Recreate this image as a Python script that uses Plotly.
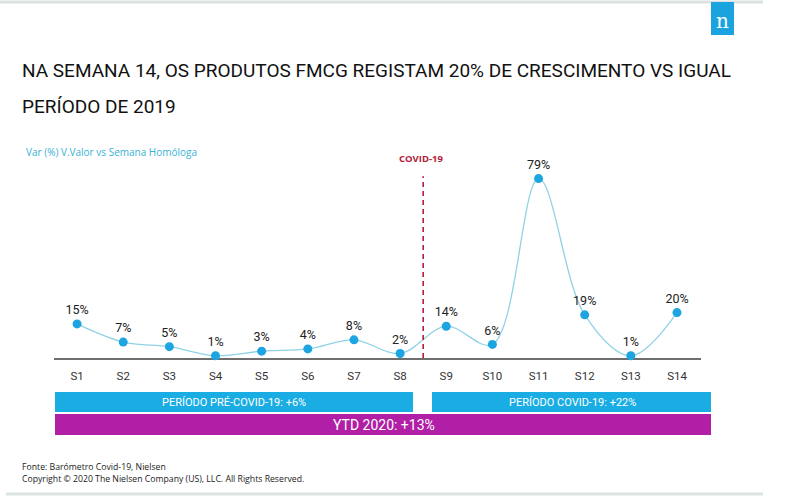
import plotly.graph_objects as go

# ---------------- data ----------------
weeks = ["S1", "S2", "S3", "S4", "S5", "S6", "S7", "S8", "S9", "S10", "S11", "S12", "S13", "S14"]
var_valor = [15, 7, 5, 1, 3, 4, 8, 2, 14, 6, 79, 19, 1, 20]
series_name = "Var (%) V.Valor vs Semana Homóloga"
covid_marker_pos = 7.5          # between S8 and S9
covid_label = "COVID-19"
period_labels = ["PERÍODO PRÉ-COVID-19: +6%", "PERÍODO COVID-19: +22%", "YTD 2020: +13%"]
title_lines = ["NA SEMANA 14, OS PRODUTOS FMCG REGISTAM 20% DE CRESCIMENTO VS IGUAL",
               "PERÍODO DE 2019"]
footer_lines = ["Fonte: Barómetro Covid-19, Nielsen",
                "Copyright © 2020 The Nielsen Company (US), LLC. All Rights Reserved."]

# ---------------- style ----------------
W, H = 810, 497
NARROW = "Roboto, Liberation Sans, sans-serif"
SANS = "Open Sans, Noto Sans, sans-serif"
CYAN = "#1AADE4"
MAGENTA = "#B01FA6"
LINE = "#8FD2E6"
MARK = "#1CA5E0"
RED = "#B3203A"


def px(x):
    return x / W


def py(y):
    return 1 - y / H


fig = go.Figure()
fig.add_trace(go.Scatter(
    x=weeks, y=var_valor, mode="lines+markers+text",
    line=dict(shape="spline", smoothing=1.0, color=LINE, width=1.3),
    marker=dict(size=9, color=MARK),
    text=[f"{v}%" for v in var_valor], textposition="top center",
    textfont=dict(family=NARROW, size=12.5, color="#222222"),
    cliponaxis=False, name=series_name, showlegend=False, hoverinfo="x+y",
))

shapes = []
# covid dashed line
shapes.append(dict(type="line", xref="x", yref="y", x0=covid_marker_pos, x1=covid_marker_pos,
                   y0=0, y1=80, line=dict(color=RED, width=1.6, dash="5px,4px")))
# top/bottom decorative lines
shapes.append(dict(type="line", xref="paper", yref="paper", x0=0, x1=px(763), y0=py(2), y1=py(2),
                   line=dict(color="#DCE1E1", width=3)))
shapes.append(dict(type="line", xref="paper", yref="paper", x0=px(6), x1=px(763), y0=py(494), y1=py(494),
                   line=dict(color="#DCE3E3", width=3)))
# logo square
shapes.append(dict(type="rect", xref="paper", yref="paper", x0=px(711), x1=px(734), y0=py(35), y1=py(2),
                   fillcolor="#1BA3DF", line=dict(width=0)))
# period bars
bars = [(55, 413, 392, 412, CYAN), (432, 711, 392, 412, CYAN), (55, 711, 414, 435, MAGENTA)]
for x0, x1, y0, y1, c in bars:
    shapes.append(dict(type="rect", xref="paper", yref="paper", x0=px(x0), x1=px(x1), y0=py(y1), y1=py(y0),
                       fillcolor=c, line=dict(width=0), layer="below"))

ann = []
ann.append(dict(text=title_lines[0], x=px(20), y=py(70), xanchor="left", yanchor="middle",
                font=dict(family=NARROW, size=19, color="#111111")))
ann.append(dict(text=title_lines[1], x=px(20), y=py(106), xanchor="left", yanchor="middle",
                font=dict(family=NARROW, size=19, color="#111111")))
ann.append(dict(text="n", x=px(722.5), y=py(21), xanchor="center", yanchor="middle",
                font=dict(family="DejaVu Serif, Liberation Serif, serif", size=20, color="white")))
ann.append(dict(text=series_name, x=px(24), y=py(152), xanchor="left", yanchor="middle",
                font=dict(family=SANS, size=10, color="#3AB1D5")))
ann.append(dict(text="<b>" + covid_label + "</b>", x=px(421), y=py(158), xanchor="center", yanchor="middle",
                font=dict(family=SANS, size=9.5, color=RED)))
ann.append(dict(text=period_labels[0], x=px(234), y=py(402), xanchor="center", yanchor="middle",
                font=dict(family=NARROW, size=11, color="white")))
ann.append(dict(text=period_labels[1], x=px(572), y=py(402), xanchor="center", yanchor="middle",
                font=dict(family=NARROW, size=11, color="white")))
ann.append(dict(text=period_labels[2], x=px(384), y=py(425), xanchor="center", yanchor="middle",
                font=dict(family=NARROW, size=14, color="white")))
ann.append(dict(text=footer_lines[0], x=px(20), y=py(467), xanchor="left", yanchor="middle",
                font=dict(family=SANS, size=8.7, color="#222222")))
ann.append(dict(text=footer_lines[1], x=px(20), y=py(479), xanchor="left", yanchor="middle",
                font=dict(family=SANS, size=8.7, color="#222222")))
for a in ann:
    a.update(xref="paper", yref="paper", showarrow=False)

fig.update_layout(
    width=W, height=H, margin=dict(l=0, r=0, t=0, b=0),
    paper_bgcolor="white", plot_bgcolor="white",
    shapes=shapes, annotations=ann, showlegend=False,
    xaxis=dict(domain=[px(54), px(701)], range=[-0.5, 13.52], type="category",
               showgrid=False, zeroline=False, showline=True, linecolor="#6E6E6E", linewidth=2,
               ticks="", tickfont=dict(family=NARROW, size=11.5, color="#333333"),
               ticklabelstandoff=6, layer="below traces", fixedrange=True),
    yaxis=dict(domain=[py(358), py(140)], range=[0, 96], visible=False, fixedrange=True),
)

fig.write_html("out.html")
